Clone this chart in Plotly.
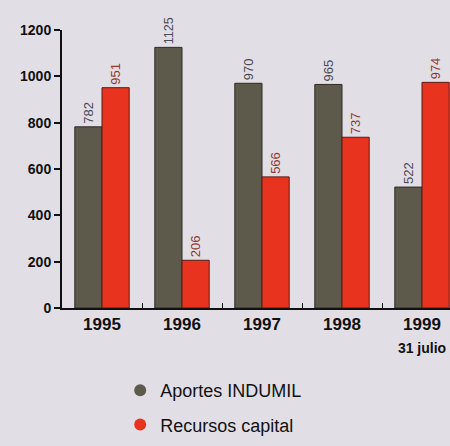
import plotly.graph_objects as go

categories = ["1995", "1996", "1997", "1998", "1999<br><span style='font-size:14px'>31 julio</span>"]
aportes_indumil = [782, 1125, 970, 965, 522]
recursos_capital = [951, 206, 566, 737, 974]
y_ticks = [0, 200, 400, 600, 800, 1000, 1200]

gray = "#5e5a4b"
red = "#e8341f"
bg = "#e2dee6"

fig = go.Figure()
fig.add_trace(go.Bar(
    x=categories, y=aportes_indumil, name="Aportes INDUMIL",
    marker=dict(color=gray, line=dict(color="#2e2a24", width=1)),
    text=aportes_indumil, textposition="outside", textangle=-90,
    textfont=dict(family="Liberation Sans", size=13, color="#4a4a52"),
    cliponaxis=False, showlegend=False,
))
fig.add_trace(go.Bar(
    x=categories, y=recursos_capital, name="Recursos capital",
    marker=dict(color=red, line=dict(color="#5a1a14", width=1)),
    text=recursos_capital, textposition="outside", textangle=-90,
    textfont=dict(family="Liberation Sans", size=13, color="#8e3a30"),
    cliponaxis=False, showlegend=False,
))
# legend entries with circular markers
fig.add_trace(go.Scatter(x=[None], y=[None], mode="markers", name="Aportes INDUMIL",
                         legendgroup="a",
                         marker=dict(symbol="circle", size=12, color=gray)))
fig.add_trace(go.Scatter(x=[None], y=[None], mode="markers", name="Recursos capital",
                         legendgroup="b",
                         marker=dict(symbol="circle", size=12, color=red)))

fig.update_layout(
    width=450, height=446,
    margin=dict(l=62, r=0, t=30, b=138),
    paper_bgcolor=bg, plot_bgcolor=bg,
    barmode="group", bargap=0.32, bargroupgap=0.0,
    font=dict(family="Liberation Sans", color="#111"),
    legend=dict(x=0.15, y=-0.23, xanchor="left", yanchor="top",
                bgcolor="rgba(0,0,0,0)", font=dict(size=18, color="#111"),
                itemsizing="constant", tracegroupgap=8),
    xaxis=dict(
        type="category", range=[-0.5, 4.35],
        showline=True, linecolor="#111", linewidth=2,
        ticks="inside", tickson="boundaries", ticklen=5, tickcolor="#111",
        tickfont=dict(size=17, color="#111", weight="bold"),
        showgrid=False, zeroline=False,
    ),
    yaxis=dict(
        range=[0, 1200], tickvals=y_ticks,
        showline=True, linecolor="#111", linewidth=2,
        ticks="outside", ticklen=6, tickcolor="#111", tickwidth=2,
        tickfont=dict(size=14, color="#111", weight="bold"),
        showgrid=False, zeroline=False,
    ),
)

fig.write_html("out.html", config={"displayModeBar": False},
               post_script="document.body.style.margin='0';document.body.style.overflow='hidden';")
